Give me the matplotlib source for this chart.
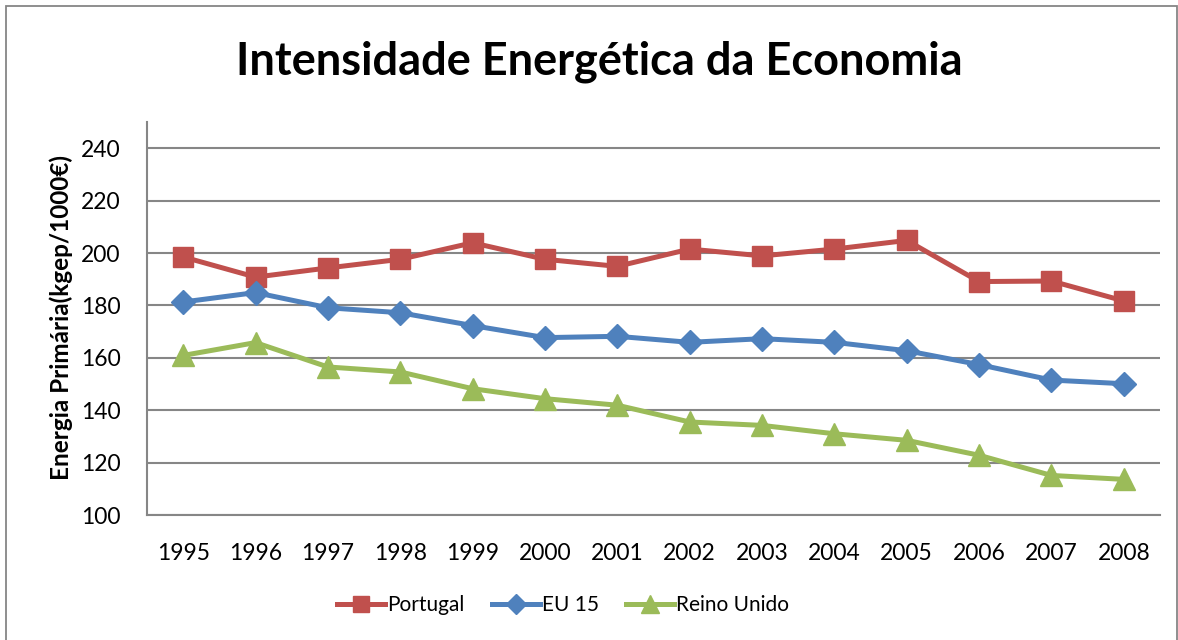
import matplotlib
matplotlib.use("Agg")
from matplotlib import pyplot as plt
from matplotlib.patches import Rectangle

years = ['1995', '1996', '1997', '1998', '1999', '2000', '2001',
         '2002', '2003', '2004', '2005', '2006', '2007', '2008']
portugal = [198.5, 190.8, 194.3, 197.6, 203.9, 197.6, 194.9,
            201.5, 198.9, 201.5, 204.8, 189.1, 189.3, 181.7]
eu15 = [181.3, 184.9, 179.1, 177.2, 172.3, 167.7, 168.2,
        165.9, 167.3, 165.9, 162.7, 157.4, 151.5, 150.1]
reino_unido = [160.9, 165.8, 156.5, 154.6, 148.2, 144.4, 141.9,
               135.5, 134.2, 131.0, 128.5, 122.8, 115.1, 113.6]
y_ticks = [100, 120, 140, 160, 180, 200, 220, 240]

plt.rcParams['font.family'] = ['Lato', 'DejaVu Sans']

W, H = 1178, 640
fig = plt.figure(figsize=(W / 100, H / 100), dpi=100)

# outer chart frame
fig.patches.append(Rectangle((6 / W, -0.05), (1177 - 6) / W, 1.05 - 6 / H,
                             transform=fig.transFigure, fill=False,
                             edgecolor='#868686', linewidth=1.3))

ax = fig.add_axes([147 / W, 1 - 515 / H, (1160 - 147) / W, (515 - 122) / H])

x = list(range(len(years)))
ax.plot(x, portugal, color='#C0504D', lw=3.6, marker='s', ms=14, label='Portugal')
ax.plot(x, eu15, color='#4F81BD', lw=3.6, marker='D', ms=12, label='EU 15')
ax.plot(x, reino_unido, color='#9BBB59', lw=3.6, marker='^', ms=16, label='Reino Unido')

ax.set_xlim(-0.5, len(years) - 0.5)
ax.set_ylim(100, 250)
ax.set_xticks(x)
ax.set_xticklabels(years)
ax.set_yticks(y_ticks)
ax.tick_params(axis='both', length=0, labelsize=16.5, colors='black')
ax.tick_params(axis='y', pad=19)
ax.tick_params(axis='x', pad=20)
ax.grid(axis='y', color='#868686', linewidth=1.5)
ax.set_axisbelow(True)
for side in ['top', 'right']:
    ax.spines[side].set_visible(False)
for side in ['left', 'bottom']:
    ax.spines[side].set_color('#868686')
    ax.spines[side].set_linewidth(1.5)

fig.text(61 / W, 1 - 318 / H, 'Energia Primária(kgep/1000€)', rotation=90,
         fontsize=17.5, fontweight='bold', ha='center', va='center')

fig.text(599 / W, 1 - 62 / H, 'Intensidade Energética da Economia',
         fontsize=32.5, fontweight='bold', ha='center', va='center')

fig.legend(loc='center', bbox_to_anchor=(563 / W, 1 - 605 / H), ncol=3,
           frameon=False, fontsize=15, handlelength=2.3, handletextpad=0.1,
           columnspacing=1.3, markerscale=0.85)

plt.savefig('out.png', dpi=100)
